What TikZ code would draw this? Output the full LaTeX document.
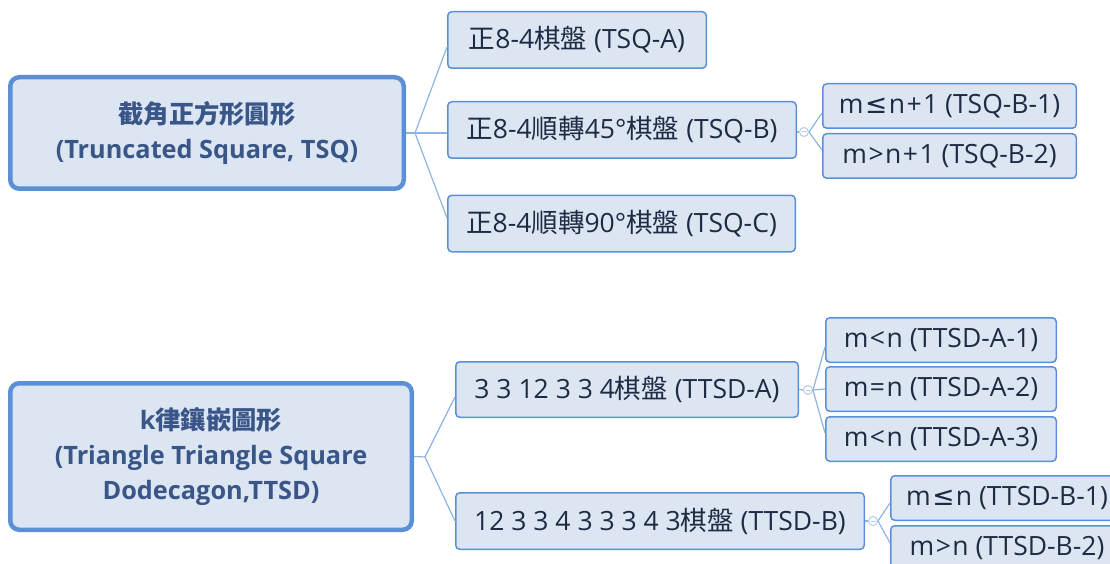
\documentclass[tikz,border=0pt]{standalone}
\usepackage{fontspec}
\setmainfont{Open Sans}
\newfontfamily\cjk{Noto Sans CJK TC}
\newfontfamily\dvs{DejaVu Sans}
\newcommand\C[1]{{\cjk #1}}
\newcommand\LE{{\dvs ≤}}
\newcommand\opgap{\kern1.5pt}
\usetikzlibrary{calc}
\definecolor{boxfill}{HTML}{DCE6F2}
\definecolor{boxline}{HTML}{5B8FD6}
\definecolor{connc}{HTML}{8EB4E3}
\definecolor{txt}{HTML}{1F2A44}
\definecolor{roottxt}{HTML}{3A5688}
\definecolor{knobc}{HTML}{B9CCEA}
\begin{document}
\begin{tikzpicture}[x=1pt,y=-1pt,
 box/.style={draw=boxline,fill=boxfill,line width=1.5pt,rounded corners=4pt,inner sep=0pt,text=txt,font=\fontsize{26.5}{30}\selectfont,anchor=center},
 rootbox/.style={box,line width=4.5pt,rounded corners=9pt,text=roottxt,font=\fontsize{25.3}{35}\bfseries\selectfont,align=center},
 connline/.style={draw=connc,line width=1.2pt},
 knob/.style={circle,draw=knobc,fill=white,line width=1pt,minimum size=9pt,inner sep=0pt},
 knobbar/.style={draw=knobc,line width=1pt}]
\useasboundingbox (0,0) rectangle (1110,564);
\clip (0,0) rectangle (1110,564);
% TSQ tree
\node[rootbox,minimum width=393.5pt,minimum height=111.5pt] (r1) at (207,133) {\C{截角正方形圓形}\\(Truncated Square, TSQ)};
\node[box,minimum width=258.5pt,minimum height=56.5pt] (tsqa) at (577,40) {\C{正}8-4\C{棋盤} (TSQ-A)};
\node[box,minimum width=348.5pt,minimum height=56.5pt] (tsqb) at (622,130) {\C{正}8-4\C{順轉}45°\C{棋盤} (TSQ-B)};
\node[box,minimum width=347.5pt,minimum height=56.5pt] (tsqc) at (621.5,223.5) {\C{正}8-4\C{順轉}90°\C{棋盤} (TSQ-C)};
\node[box,minimum width=253.5pt,minimum height=44.5pt] (b1) at (949.5,106) {m\opgap\LE\opgap n\opgap+\opgap1 (TSQ-B-1)};
\node[box,minimum width=253.5pt,minimum height=44.5pt] (b2) at (949.5,156) {m\opgap>\opgap n\opgap+\opgap1 (TSQ-B-2)};
\coordinate (j1) at (415,133);
\draw[connline] (r1.east) -- (j1);
\draw[connline] (j1) -- ([yshift=-7pt]tsqa.west);
\draw[connline] (j1) -- ([yshift=-3pt]tsqb.west);
\draw[connline] (j1) -- ([yshift=5.5pt]tsqc.west);
\node[knob] (k1) at (804,132) {};
\draw[connline] ([yshift=-2pt]tsqb.east) -- (k1.west);
\draw[connline] (k1.east) -- ([yshift=-7pt]b1.west);
\draw[connline] (k1.east) -- ([yshift=6pt]b2.west);
\draw[knobbar] ($(k1)+(-2.5,0)$) -- ($(k1)+(2.5,0)$);
% TTSD tree
\node[rootbox,minimum width=401.5pt,minimum height=146.5pt] (r2) at (211,456.5) {k\C{律鑲嵌圖形}\\(Triangle Triangle Square\\Dodecagon,TTSD)};
\node[box,minimum width=342.5pt,minimum height=55.5pt] (ta) at (627,389.5) {3 3 12 3 3 4\C{棋盤} (TTSD-A)};
\node[box,minimum width=408.5pt,minimum height=56.5pt] (tb) at (660,521) {12 3 3 4 3 3 3 4 3\C{棋盤} (TTSD-B)};
\node[box,minimum width=230.5pt,minimum height=44.5pt] (a1) at (941,340) {m\opgap<\opgap n (TTSD-A-1)};
\node[box,minimum width=230.5pt,minimum height=44.5pt] (a2) at (941,389) {m\opgap=\opgap n (TTSD-A-2)};
\node[box,minimum width=230.5pt,minimum height=44.5pt] (a3) at (941,439) {m\opgap<\opgap n (TTSD-A-3)};
\node[box,minimum width=232.5pt,minimum height=44.5pt] (bb1) at (1007,498) {m\opgap\LE\opgap n (TTSD-B-1)};
\node[box,minimum width=232.5pt,minimum height=44.5pt] (bb2) at (1007,548) {m\opgap>\opgap n (TTSD-B-2)};
\coordinate (j2) at (425,457);
\draw[connline] (r2.east) -- (j2);
\draw[connline] (j2) -- ([yshift=-7.5pt]ta.west);
\draw[connline] (j2) -- (tb.west);
\node[knob] (k2) at (808,390) {};
\draw[connline] (ta.east) -- (k2.west);
\draw[connline] (k2.east) -- ([yshift=-7pt]a1.west);
\draw[connline] (k2.east) -- (a2.west);
\draw[connline] (k2.east) -- ([yshift=6pt]a3.west);
\draw[knobbar] ($(k2)+(-2.5,0)$) -- ($(k2)+(2.5,0)$);
\node[knob] (k3) at (873,521) {};
\draw[connline] (tb.east) -- (k3.west);
\draw[connline] (k3.east) -- ([yshift=-5pt]bb1.west);
\draw[connline] (k3.east) -- ([yshift=5pt]bb2.west);
\draw[knobbar] ($(k3)+(-2.5,0)$) -- ($(k3)+(2.5,0)$);
\end{tikzpicture}
\end{document}
